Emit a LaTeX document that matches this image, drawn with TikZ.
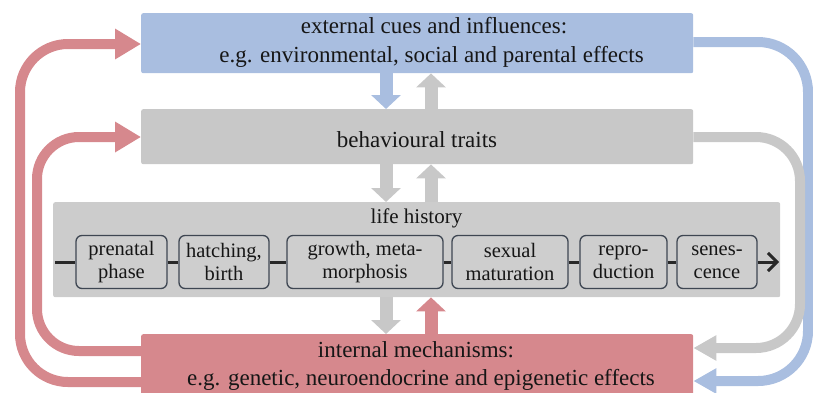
\documentclass[tikz,border=0pt]{standalone}
\usepackage{fontspec}
\setmainfont{Liberation Serif}
\usetikzlibrary{arrows.meta}
\definecolor{bluec}{RGB}{169,190,224}
\definecolor{redc}{RGB}{214,136,141}
\definecolor{grayc}{RGB}{200,200,200}
\definecolor{lifec}{RGB}{204,204,204}
\definecolor{stagefill}{RGB}{206,206,206}
\definecolor{stageline}{RGB}{62,70,82}
\definecolor{tlc}{RGB}{40,40,40}
\definecolor{txtc}{RGB}{22,22,22}
\tikzset{
  bigbox/.style={rectangle, rounded corners=2pt, inner sep=0pt, anchor=north west},
  maintxt/.style={font=\fontsize{23}{29}\selectfont, anchor=base, text=txtc, inner sep=0pt},
  lifetxt/.style={font=\fontsize{21}{23}\selectfont, anchor=base, text=txtc, inner sep=0pt},
  stagebox/.style={draw=stageline, line width=1.3pt, rounded corners=6pt, fill=stagefill,
    minimum height=53pt, inner sep=0pt, align=center, text=txtc,
    font=\fontsize{20.5}{23}\selectfont},
  blockarrow/.style={line width=13pt, -{Triangle[width=29pt,length=14pt]}},
  loopL/.style={line width=10pt, rounded corners=48pt, -{Triangle[width=29pt,length=26pt]}},
  loopR/.style={line width=10pt, rounded corners=46pt, -{Triangle[width=24pt,length=23pt]}},
  timeline/.style={line width=3pt, draw=tlc},
}
\begin{document}
\begin{tikzpicture}[x=1pt,y=-1pt]
\useasboundingbox (0,0) rectangle (813,392);
\clip (0,0) rectangle (813,392);

% boxes
\node[bigbox, fill=bluec, minimum width=552pt, minimum height=60pt] (ext) at (141,13) {};
\node[bigbox, fill=grayc, minimum width=552pt, minimum height=55pt] (beh) at (141,109) {};
\node[bigbox, fill=lifec, minimum width=727pt, minimum height=95pt] (life) at (53,202) {};
\node[bigbox, fill=redc, minimum width=552pt, minimum height=80pt] (int) at (141,334) {};

% texts
\node[maintxt] (extA) at (434,33) {external cues and influences:};
\node[maintxt] (extB) at (431.5,62) {e.g. environmental, social and parental effects};
\node[maintxt] (behT) at (417,147) {behavioural traits};
\node[lifetxt] (lifeT) at (416.5,223) {life history};
\node[maintxt] (intA) at (416,357) {internal mechanisms:};
\node[maintxt] (intB) at (421,385) {e.g. genetic, neuroendocrine and epigenetic effects};

% stages
\node[stagebox, minimum width=91pt] (s1) at (121.5,262) {prenatal\\phase};
\node[stagebox, minimum width=90pt] (s2) at (224,262) {hatching,\\birth};
\node[stagebox, minimum width=156pt] (s3) at (365,262) {growth, meta-\\morphosis};
\node[stagebox, minimum width=116pt] (s4) at (510,262) {sexual\\maturation};
\node[stagebox, minimum width=87pt] (s5) at (623.5,262) {repro-\\duction};
\node[stagebox, minimum width=80pt] (s6) at (717,262) {senes-\\cence};
\coordinate (tl0) at (55,262);
\coordinate (tl1) at (779,262);
\draw[timeline] (tl0) -- (s1.west);
\draw[timeline] (s1.east) -- (s2.west);
\draw[timeline] (s2.east) -- (s3.west);
\draw[timeline] (s3.east) -- (s4.west);
\draw[timeline] (s4.east) -- (s5.west);
\draw[timeline] (s5.east) -- (s6.west);
\draw[timeline, -{Straight Barb[length=9pt,width=18pt]}] (s6.east) -- (tl1);

% vertical block arrows
\coordinate (dx) at (386,0);
\coordinate (ux) at (431,0);
\draw[blockarrow, bluec] (dx |- ext.south) -- (dx |- beh.north);
\draw[blockarrow, grayc] (ux |- beh.north) -- (ux |- ext.south);
\draw[blockarrow, grayc] (dx |- beh.south) -- (dx |- life.north);
\draw[blockarrow, grayc] (ux |- life.north) -- (ux |- beh.south);
\draw[blockarrow, grayc] (dx |- life.south) -- (dx |- int.north);
\draw[blockarrow, redc] (ux |- int.north) -- (ux |- life.south);

% loops left
\coordinate (lo1) at (20,382);
\coordinate (hi1) at (20,44);
\coordinate (lo2) at (37,351);
\coordinate (hi2) at (37,137);
\draw[loopL, redc] (lo1 -| int.west) -- (lo1) -- (hi1) -- (hi1 -| ext.west);
\draw[loopL, redc, rounded corners=42pt] (lo2 -| int.west) -- (lo2) -- (hi2) -- (hi2 -| beh.west);

% loops right
\coordinate (rh1) at (808,42);
\coordinate (rl1) at (808,381);
\coordinate (rh2) at (800,137);
\coordinate (rl2) at (800,348);
\draw[loopR, bluec, rounded corners=50pt] (rh1 -| ext.east) -- (rh1) -- (rl1) -- (rl1 -| int.east);
\draw[loopR, grayc, rounded corners=44pt] (rh2 -| beh.east) -- (rh2) -- (rl2) -- (rl2 -| int.east);
\end{tikzpicture}
\end{document}
